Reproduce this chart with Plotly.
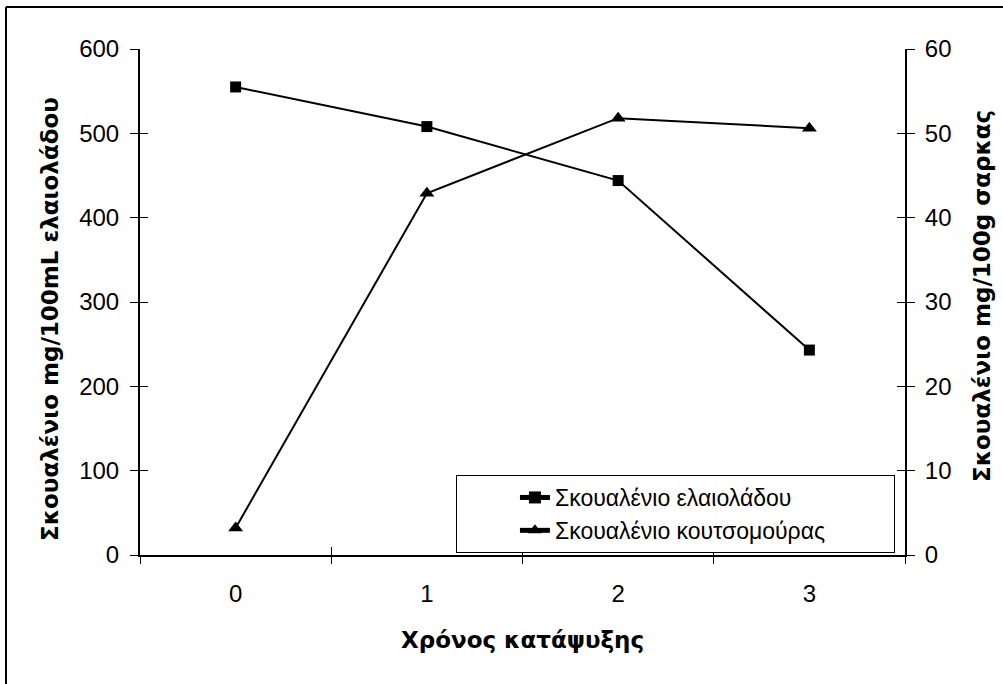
import plotly.graph_objects as go

categories = ["0", "1", "2", "3"]
olive_oil = [555, 508, 444, 243]
flesh = [3.2, 42.9, 51.8, 50.6]
left_ticks = [0, 100, 200, 300, 400, 500, 600]
right_ticks = [0, 10, 20, 30, 40, 50, 60]

xpos = list(range(len(categories)))
bounds = [i - 0.5 for i in range(len(categories) + 1)]

tickfont = dict(family="Liberation Sans, Arial", size=24, color="black")
titlefont = dict(family="DejaVu Sans", size=23, color="black")
NB = "\u00a0"

fig = go.Figure()
fig.add_trace(go.Scatter(
    x=xpos, y=olive_oil, name="Σκουαλένιο ελαιολάδου", mode="lines+markers",
    line=dict(color="black", width=2), marker=dict(symbol="square", size=11, color="black"),
    xaxis="x", yaxis="y"))
fig.add_trace(go.Scatter(
    x=xpos, y=flesh, name="Σκουαλένιο κουτσομούρας" + NB * 10, mode="lines+markers",
    line=dict(color="black", width=2), marker=dict(symbol="triangle-up", size=13, color="black"),
    xaxis="x", yaxis="y2"))
# empty helper traces so that the overlay tick axes are drawn
fig.add_trace(go.Scatter(x=[], y=[], xaxis="x2", yaxis="y3", showlegend=False, hoverinfo="skip"))
fig.add_trace(go.Scatter(x=[], y=[], xaxis="x3", yaxis="y4", showlegend=False, hoverinfo="skip"))

axline = dict(showline=True, linecolor="black", linewidth=2, showgrid=False, zeroline=False)
tickonly = dict(showticklabels=False, showgrid=False, zeroline=False, showline=False,
                tickcolor="black", tickwidth=1, ticklen=8)

fig.update_layout(
    width=1003, height=684,
    margin=dict(l=140, r=98, t=49, b=129),
    paper_bgcolor="white", plot_bgcolor="white",
    showlegend=True,
    xaxis=dict(range=[-0.5, 3.5], tickvals=xpos, ticktext=categories, ticks="",
               ticklabelstandoff=16, tickfont=tickfont, **axline),
    xaxis2=dict(range=[-0.5, 3.5], overlaying="x", anchor="y", side="bottom",
                tickvals=bounds, ticks="outside", **tickonly),
    xaxis3=dict(range=[-0.5, 3.5], overlaying="x", anchor="y", side="bottom",
                tickvals=bounds, ticks="inside", **tickonly),
    yaxis=dict(range=[0, 600], tickvals=left_ticks, ticks="outside", ticklen=8,
               tickcolor="black", tickwidth=1, ticklabelstandoff=6, tickfont=tickfont, **axline),
    yaxis2=dict(range=[0, 60], tickvals=right_ticks, overlaying="y", side="right",
                anchor="x", ticks="outside", ticklen=8, tickcolor="black", tickwidth=1,
                ticklabelstandoff=5, tickfont=tickfont, **axline),
    yaxis3=dict(range=[0, 600], tickvals=left_ticks, overlaying="y", side="left",
                anchor="x", ticks="inside", **tickonly),
    yaxis4=dict(range=[0, 60], tickvals=right_ticks, overlaying="y", side="right",
                anchor="x", ticks="inside", **tickonly),
    legend=dict(x=0.413, y=(555 - 514) / 506, xanchor="left", yanchor="middle",
                bgcolor="white", bordercolor="black", borderwidth=1,
                font=dict(family="Liberation Sans, Arial", size=23, color="black"),
                indentation=58, tracegroupgap=0, itemsizing="constant"),
    shapes=[
        dict(type="line", xref="paper", yref="paper", x0=-134 / 765, x1=1.2, y0=1 + 42 / 506, y1=1 + 42 / 506,
             line=dict(color="black", width=2)),
        dict(type="line", xref="paper", yref="paper", x0=-134 / 765, x1=-134 / 765, y0=1 + 42 / 506, y1=-0.3,
             line=dict(color="black", width=2)),
    ],
    annotations=[
        dict(text="<b>Χρόνος κατάψυξης</b>", xref="paper", yref="paper", x=0.5, y=-85 / 506,
             xanchor="center", yanchor="middle", showarrow=False, font=titlefont),
        dict(text="<b>Σκουαλένιο mg/100mL ελαιολάδου</b>", xref="paper", yref="paper",
             x=-90 / 765, y=(555 - 319) / 506, xanchor="center", yanchor="middle",
             textangle=-90, showarrow=False, font=titlefont),
        dict(text="<b>Σκουαλένιο mg/100g σαρκας</b>", xref="paper", yref="paper",
             x=1 + 77 / 765, y=(555 - 296) / 506, xanchor="center", yanchor="middle",
             textangle=-90, showarrow=False, font=titlefont),
    ],
)

fig.write_html("out.html")
